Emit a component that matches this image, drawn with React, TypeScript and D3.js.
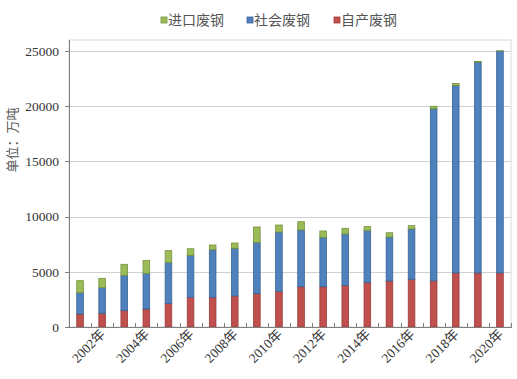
import React from "react";
import * as d3 from "d3";

const years = [2001,2002,2003,2004,2005,2006,2007,2008,2009,2010,2011,2012,2013,2014,2015,2016,2017,2018,2019,2020];
const selfScrap = [1180,1240,1480,1630,2140,2690,2690,2810,3020,3230,3650,3650,3770,4040,4170,4320,4180,4900,4900,4900];
const socialScrap = [1930,2320,3200,3230,3690,3800,4310,4320,4620,5370,5140,4470,4650,4680,3980,4560,15590,16990,19100,20100];
const importScrap = [1090,850,1000,1180,1090,600,430,480,1420,640,750,580,520,370,390,300,230,180,60,20];
const yTicks = [0,5000,10000,15000,20000,25000];
const seriesNames = ["进口废钢","社会废钢","自产废钢"];
const seriesKeys = ["self","social","import"];

const W = 517, H = 379;
const m = { left: 69, right: 511, top: 40, bottom: 327 };
const fill: Record<string,string> = { self: "#C0504D", social: "#4F81BD", import: "#9BBB59" };
const edge: Record<string,string> = { self: "#9A3B38", social: "#3A6496", import: "#76923C" };
const serif = "Liberation Serif, DejaVu Serif, Noto Sans CJK SC, serif";

export default function App() {
  const rows = years.map((y, i) => ({ year: String(y), self: selfScrap[i], social: socialScrap[i], import: importScrap[i] }));
  const stack = d3.stack<any>().keys(seriesKeys)(rows);
  const x = d3.scaleBand().domain(rows.map(r => r.year)).range([m.left, m.right]).paddingInner(0.7).paddingOuter(0.35);
  const y = d3.scaleLinear().domain([0, 26000]).range([m.bottom, m.top]);
  const step = x.step();
  const legendItems = [
    { name: seriesNames[0], key: "import", x: 161 },
    { name: seriesNames[1], key: "social", x: 247 },
    { name: seriesNames[2], key: "self", x: 334 },
  ];
  const ts = { fontFamily: serif };
  return (
    <svg width={W} height={H} style={{ position: "absolute", left: 0, top: 0, background: "#fff", fontFamily: serif }}>
      <rect x={m.left} y={m.top} width={m.right - m.left} height={m.bottom - m.top} fill="none" stroke="#d9d9d9" strokeWidth={1} />
      {yTicks.filter(t => t > 0).map(t => (
        <line key={t} x1={m.left} x2={m.right} y1={Math.round(y(t)) + 0.5} y2={Math.round(y(t)) + 0.5} stroke="#d0d0d0" strokeWidth={1} />
      ))}
      {stack.map(s => (
        <g key={s.key}>
          {s.map((d: any, i: number) => {
            const h = y(d[0]) - y(d[1]);
            if (h <= 0) return null;
            return (
              <rect key={i} x={x(rows[i].year)!} y={y(d[1])} width={x.bandwidth()} height={h}
                fill={fill[s.key]} stroke={edge[s.key]} strokeWidth={0.8} />
            );
          })}
        </g>
      ))}
      <line x1={m.left + 0.5} x2={m.left + 0.5} y1={m.top} y2={m.bottom} stroke="#7f7f7f" strokeWidth={1} />
      <line x1={m.left} x2={m.right} y1={m.bottom + 0.5} y2={m.bottom + 0.5} stroke="#7f7f7f" strokeWidth={1} />
      {yTicks.map(t => (
        <g key={t}>
          <line x1={m.left - 4} x2={m.left} y1={Math.round(y(t)) + 0.5} y2={Math.round(y(t)) + 0.5} stroke="#7f7f7f" />
          <text x={59} y={y(t)} dy="0.35em" textAnchor="end" fontSize={13.5} fill="#333" style={ts}>{t}</text>
        </g>
      ))}
      {d3.range(years.length + 1).map(i => (
        <line key={i} x1={Math.round(m.left + i * step) + 0.5} x2={Math.round(m.left + i * step) + 0.5} y1={m.bottom - 4} y2={m.bottom + 1} stroke="#7f7f7f" />
      ))}
      {rows.map((r, i) => (i % 2 === 1 ? (
        <text key={r.year} transform={`translate(${x(r.year)! + x.bandwidth() / 2 + 4},${m.bottom + 8}) rotate(-45)`}
          textAnchor="end" fontSize={13.5} fill="#333" style={ts}>{r.year}年</text>
      ) : null))}
      <text transform={`translate(17,140) rotate(-90)`} textAnchor="middle" fontSize={13} fill="#555" style={ts}>单位：万吨</text>
      {legendItems.map(l => (
        <g key={l.key}>
          <rect x={l.x} y={17} width={6} height={6} fill={fill[l.key]} stroke={edge[l.key]} strokeWidth={0.8} />
          <text x={l.x + 7} y={20} dy="0.35em" fontSize={14} fill="#555" style={ts}>{l.name}</text>
        </g>
      ))}
    </svg>
  );
}
